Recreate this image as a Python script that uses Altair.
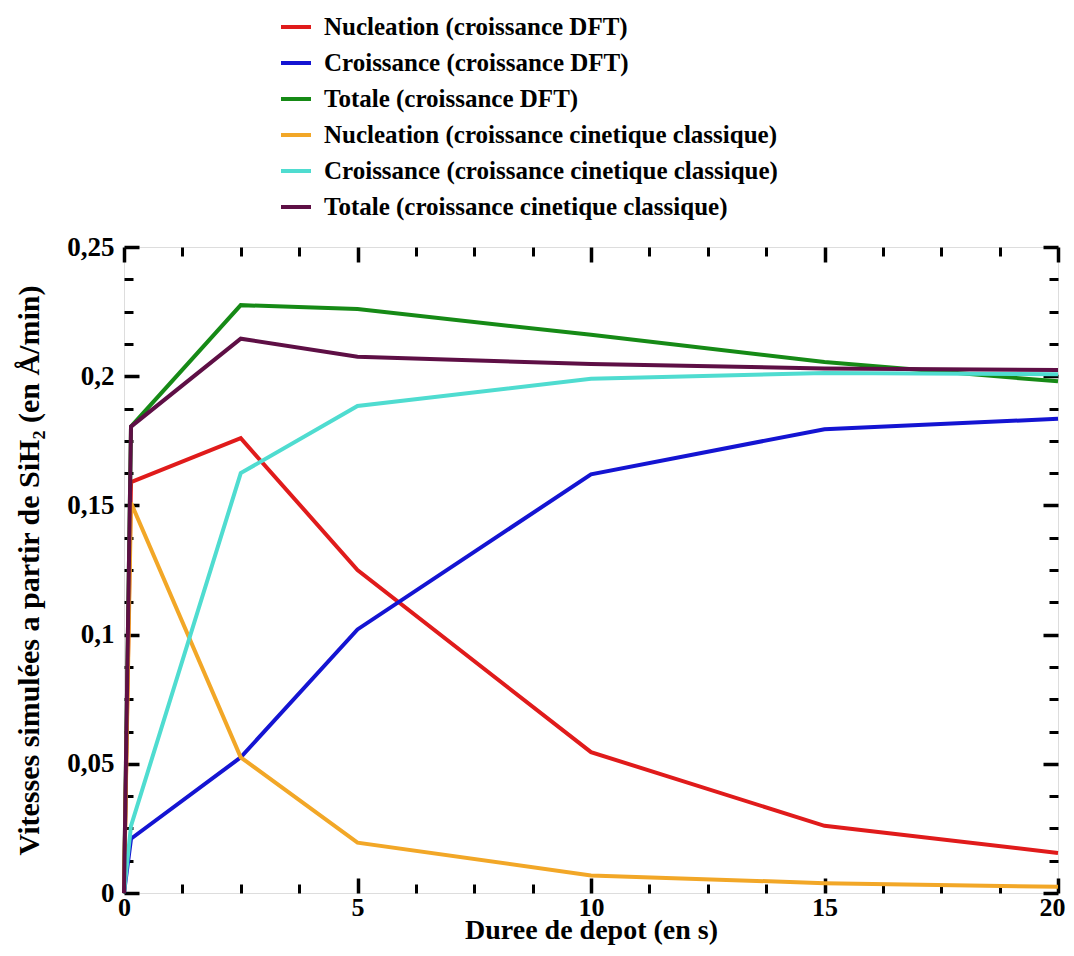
import altair as alt
import pandas as pd

# ---- data ----
durations = [0, 0.15, 2.5, 5, 10, 15, 20]
series_names = [
    "Nucleation (croissance DFT)",
    "Croissance (croissance DFT)",
    "Totale (croissance DFT)",
    "Nucleation (croissance cinetique classique)",
    "Croissance (croissance cinetique classique)",
    "Totale (croissance cinetique classique)",
]
nucleation_dft = [0, 0.159, 0.176, 0.125, 0.0545, 0.026, 0.0155]
croissance_dft = [0, 0.021, 0.0525, 0.102, 0.162, 0.1795, 0.1835]
totale_dft = [0, 0.1805, 0.2275, 0.226, 0.216, 0.2055, 0.198]
nucleation_cin = [0, 0.151, 0.0525, 0.0195, 0.0068, 0.0038, 0.0024]
croissance_cin = [0, 0.026, 0.1625, 0.1885, 0.199, 0.2012, 0.2008]
totale_cin = [0, 0.1805, 0.2145, 0.2075, 0.2047, 0.203, 0.2024]
series_colors = ["#e01b1b", "#1414d2", "#168a16", "#f2a727", "#4fdcd0", "#5e0f45"]

x_major = [0, 5, 10, 15, 20]
x_minor = [1.25, 2.5, 3.75, 6.25, 7.5, 8.75, 11.25, 12.5, 13.75, 16.25, 17.5, 18.75]
y_major = [0, 0.05, 0.1, 0.15, 0.2, 0.25]
y_minor = [0.0125, 0.025, 0.0375, 0.0625, 0.075, 0.0875, 0.1125, 0.125, 0.1375,
           0.1625, 0.175, 0.1875, 0.2125, 0.225, 0.2375]

all_values = [nucleation_dft, croissance_dft, totale_dft,
              nucleation_cin, croissance_cin, totale_cin]
rows = []
for k, (name, vals) in enumerate(zip(series_names, all_values)):
    for i, (t, v) in enumerate(zip(durations, vals)):
        rows.append({"serie": name, "t": t, "v": v, "k": k, "i": i})
df = pd.DataFrame(rows)

FONT = "Liberation Serif"

xscale = alt.Scale(domain=[0, 20], nice=False, zero=False)
yscale = alt.Scale(domain=[0, 0.25], nice=False, zero=False)

main_x_axis = alt.Axis(
    values=x_major, ticks=False, domain=False, grid=False,
    labelFont=FONT, labelFontWeight="bold", labelFontSize=26, labelColor="black",
    labelPadding=1, labelFlush=False, labelOverlap=False,
    labelOffset={"condition": {"test": "datum.value == 20", "value": -6}, "value": 0},
    title="Duree de depot (en s)", titleFont=FONT, titleFontWeight="bold",
    titleFontSize=28, titleColor="black", titleBaseline="alphabetic",
    titleX=467, titleY=45,
)
main_y_axis = alt.Axis(
    values=y_major, ticks=False, domain=False, grid=False, format="~g",
    labelExpr="replace(datum.label, '.', ',')",
    labelFont=FONT, labelFontWeight="bold", labelFontSize=27, labelColor="black",
    labelPadding=10, labelFlush=False, labelOverlap=False,
    title="Vitesses simulées a partir de SiH₂ (en Å/min)", titleFont=FONT,
    titleFontWeight="bold", titleFontSize=30, titleColor="black",
    titleX=-95, titleY=323, titleBaseline="middle", titleAngle=-90,
)

lines = alt.Chart(df).mark_line(strokeWidth=4).encode(
    x=alt.X("t:Q", scale=xscale, axis=main_x_axis),
    y=alt.Y("v:Q", scale=yscale, axis=main_y_axis),
    color=alt.Color(
        "serie:N",
        scale=alt.Scale(domain=series_names, range=series_colors),
        sort=series_names,
        legend=alt.Legend(
            title=None, orient="none", legendX=155, legendY=-238,
            symbolType="stroke", symbolSize=900, symbolStrokeWidth=4,
            labelFont=FONT, labelFontWeight="bold", labelFontSize=25,
            labelColor="black", labelOffset=11, labelLimit=800,
            clipHeight=36, rowPadding=0, padding=0,
        ),
    ),
    order="i:Q",
)


def tick_layer(xvals, yvals, xorient, yorient, xsize, ysize, width):
    return alt.Chart(df).mark_point(opacity=0).encode(
        x=alt.X("t:Q", scale=xscale, axis=alt.Axis(
            orient=xorient, values=xvals, labels=False, domain=False, grid=False,
            ticks=True, tickSize={"expr": str(-xsize)}, tickWidth=width,
            tickColor="black", title=None)),
        y=alt.Y("v:Q", scale=yscale, axis=alt.Axis(
            orient=yorient, values=yvals, labels=False, domain=False, grid=False,
            ticks=True, tickSize={"expr": str(-ysize)}, tickWidth=width,
            tickColor="black", title=None)),
    )


chart = alt.layer(
    lines,
    tick_layer(x_major, y_major, "bottom", "left", 15, 15, 3.5),
    tick_layer(x_minor, y_minor, "bottom", "left", 9, 9, 3),
    tick_layer(x_major, y_major, "top", "right", 15, 15, 3.5),
    tick_layer(x_minor, y_minor, "top", "right", 9, 9, 3),
).resolve_axis(x="independent", y="independent").properties(
    width=934, height=646,
    autosize=alt.AutoSizeParams(type="none"),
    padding={"left": 116, "top": 239, "right": 8, "bottom": 53},
).configure_view(stroke="black", strokeWidth=3).configure(background="white")

chart.save("out.html", embed_options={"renderer": "svg", "actions": False})
